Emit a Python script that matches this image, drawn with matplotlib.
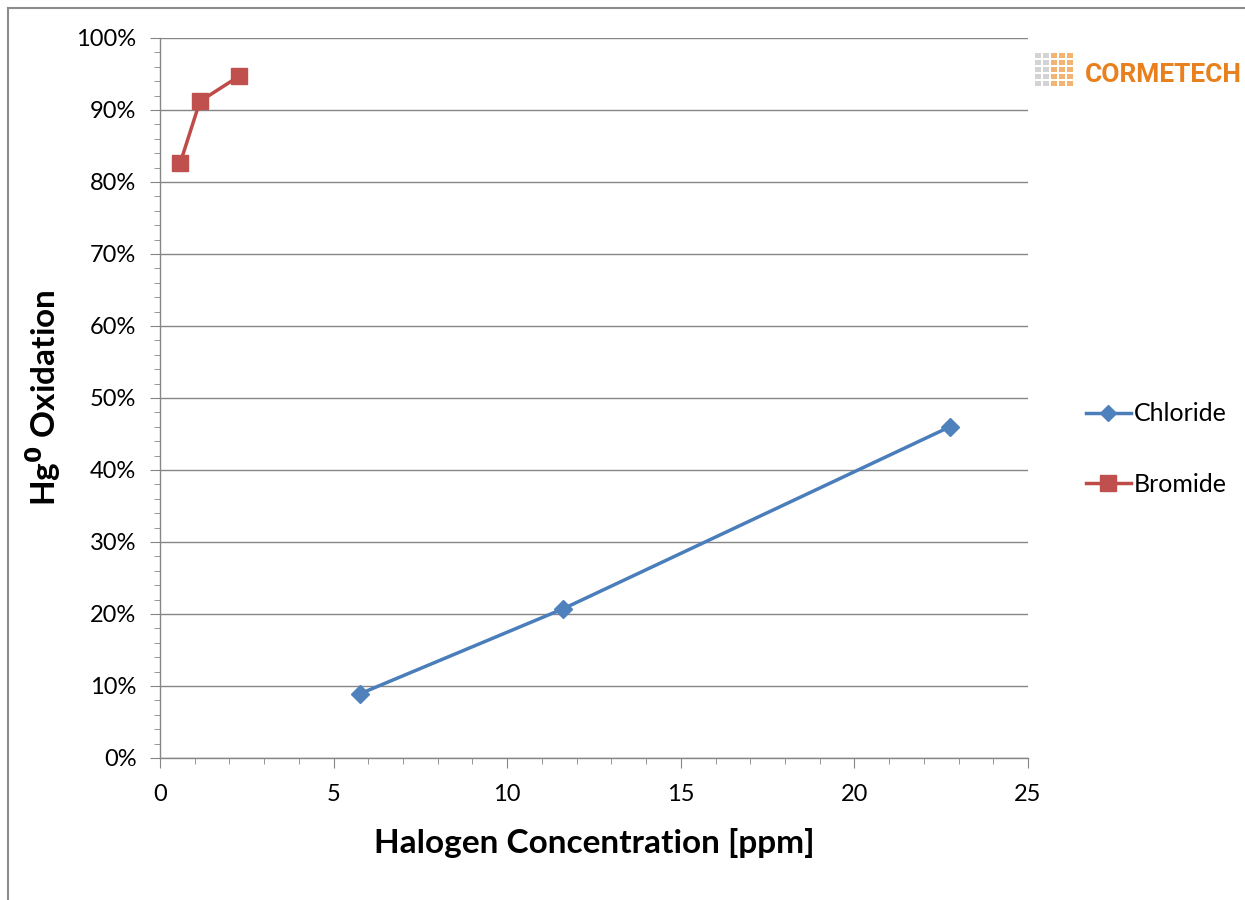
import matplotlib
matplotlib.use("Agg")
import matplotlib.pyplot as plt
from matplotlib.ticker import MultipleLocator, FuncFormatter
from matplotlib.patches import Rectangle
from matplotlib.lines import Line2D

chloride_x = [5.75, 11.6, 22.75]
chloride_y = [0.089, 0.207, 0.460]
bromide_x = [0.58, 1.15, 2.28]
bromide_y = [0.826, 0.912, 0.947]
series_names = ["Chloride", "Bromide"]

plt.rcParams['font.family'] = ['Lato', 'DejaVu Sans']

fig = plt.figure(figsize=(12.45, 9), dpi=100)
fig.patch.set_facecolor('white')
ax = fig.add_axes([160/1245, 1-758/900, (1028-160)/1245, (758-38)/900])

grid_c = '#868686'
ax.set_xlim(0, 25)
ax.set_ylim(0, 1.0)
ax.xaxis.set_major_locator(MultipleLocator(5))
ax.xaxis.set_minor_locator(MultipleLocator(1))
ax.yaxis.set_major_locator(MultipleLocator(0.1))
ax.yaxis.set_minor_locator(MultipleLocator(0.02))
ax.yaxis.set_major_formatter(FuncFormatter(lambda v, p: f"{v*100:.0f}%"))
ax.grid(True, which='major', axis='y', color=grid_c, lw=1.0)
ax.set_axisbelow(True)
for s in ['top', 'right']:
    ax.spines[s].set_visible(False)
for s in ['left', 'bottom']:
    ax.spines[s].set_color(grid_c)
    ax.spines[s].set_linewidth(1.0)
ax.tick_params(which='major', direction='out', length=7, color=grid_c, labelsize=17)
ax.tick_params(axis='x', which='major', pad=12)
ax.tick_params(axis='y', which='major', pad=10)
ax.tick_params(which='minor', direction='out', length=4, color=grid_c)

ax.plot(chloride_x, chloride_y, color='#4A7EBB', lw=2.5, marker='D', ms=9,
        mfc='#4F81BD', mec='#4F81BD', label=series_names[0])
ax.plot(bromide_x, bromide_y, color='#BE4B48', lw=2.5, marker='s', ms=12,
        mfc='#C0504D', mec='#C0504D', label=series_names[1], clip_on=False)

ax.set_xlabel("Halogen Concentration [ppm]", fontsize=24, fontweight='bold')
ax.set_ylabel("Hg$^{\\mathbf{0}}$ Oxidation", fontsize=24, fontweight='bold')
ax.xaxis.set_label_coords(0.5, -0.097)
ax.yaxis.set_label_coords(-0.112, 0.5)

# legend
handles = [Line2D([0], [0], color='#4A7EBB', lw=2.5, marker='D', ms=8, mfc='#4F81BD', mec='#4F81BD'),
           Line2D([0], [0], color='#BE4B48', lw=2.5, marker='s', ms=11, mfc='#C0504D', mec='#C0504D')]
leg = fig.legend(handles, series_names, loc='center left', bbox_to_anchor=(1063/1245, 1-449/900),
                 frameon=False, fontsize=18, labelspacing=1.9, handlelength=1.8, handletextpad=0.15)

# outer frame
fig.add_artist(Line2D([8/1245, 8/1245], [0, 1-8/900], color='#8c8c8c', lw=1.5, transform=fig.transFigure))
fig.add_artist(Line2D([8/1245, 1], [1-8/900, 1-8/900], color='#8c8c8c', lw=1.5, transform=fig.transFigure))

# logo
for i in range(5):
    for j in range(5):
        c = '#c8c8c8' if i < 2 else '#f0a050'
        fig.add_artist(Rectangle(((1035 + i*8)/1245, 1-(58 + j*7)/900), 6/1245, 5/900,
                                 transform=fig.transFigure, color=c, alpha=0.8, lw=0))
fig.text(1085/1245, 1-75/900, "CORMETECH", color='#E8801E', fontsize=19, fontweight='bold',
         va='center', ha='left', family=['Roboto', 'DejaVu Sans'])

fig.savefig("out.png", dpi=100, facecolor='white')
